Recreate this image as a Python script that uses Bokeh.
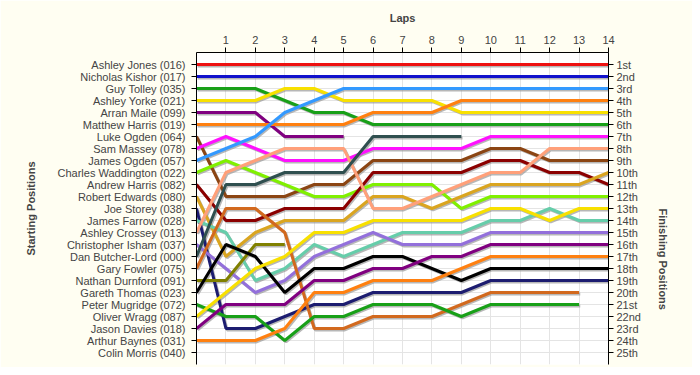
import math
from bokeh.plotting import figure
from bokeh.models import Range1d, LinearAxis, FixedTicker, ColumnDataSource
from bokeh.transform import dodge
from bokeh.embed import file_html
from bokeh.resources import INLINE

laps = list(range(0, 15))
lap_ticks = list(range(1, 15))

drivers = ["Ashley Jones (016)", "Nicholas Kishor (017)", "Guy Tolley (035)", "Ashley Yorke (021)",
           "Arran Maile (099)", "Matthew Harris (019)", "Luke Ogden (064)", "Sam Massey (078)",
           "James Ogden (057)", "Charles Waddington (022)", "Andrew Harris (082)", "Robert Edwards (080)",
           "Joe Storey (038)", "James Farrow (028)", "Ashley Crossey (013)", "Christopher Isham (037)",
           "Dan Butcher-Lord (000)", "Gary Fowler (075)", "Nathan Durnford (091)", "Gareth Thomas (023)",
           "Peter Mugridge (072)", "Oliver Wragg (087)", "Jason Davies (018)", "Arthur Baynes (031)",
           "Colin Morris (040)"]

finish_labels = ["1st", "2nd", "3rd", "4th", "5th", "6th", "7th", "8th", "9th", "10th", "11th", "12th",
                 "13th", "14th", "15th", "16th", "17th", "18th", "19th", "20th", "21st", "22nd", "23rd",
                 "24th", "25th"]

ashley_jones = [1, 1, 1, 1, 1, 1, 1, 1, 1, 1, 1, 1, 1, 1, 1]
nicholas_kishor = [2, 2, 2, 2, 2, 2, 2, 2, 2, 2, 2, 2, 2, 2, 2]
guy_tolley = [3, 3, 3, 4, 5, 5, 6, 6, 6, 6, 6, 6, 6, 6, 6]
ashley_yorke = [4, 4, 4, 3, 3, 4, 4, 4, 4, 5, 5, 5, 5, 5, 5]
arran_maile = [5, 5, 5, 7, 7, 7]
matthew_harris = [6, 6, 6, 6, 6, 6, 5, 5, 5, 4, 4, 4, 4, 4, 4]
luke_ogden = [7, 12, 12, 12, 11, 11, 9, 9, 9, 9, 8, 8, 9, 9, 9]
sam_massey = [8, 7, 8, 9, 9, 9, 8, 8, 8, 8, 7, 7, 7, 7, 7]
james_ogden = [9, 8, 7, 5, 4, 3, 3, 3, 3, 3, 3, 3, 3, 3, 3]
charles_waddington = [10, 9, 10, 11, 12, 12, 11, 11, 11, 13, 12, 12, 12, 12, 12]
andrew_harris = [11, 14, 14, 13, 13, 13, 10, 10, 10, 10, 9, 9, 10, 10, 11]
robert_edwards = [12, 17, 15, 14, 14, 14, 12, 12, 13, 12, 11, 11, 11, 11, 10]
joe_storey = [13, 23, 23, 22, 21, 21, 20, 20, 20, 20, 19, 19, 19, 19, 19]
james_farrow = [14, 15, 19, 18, 16, 17, 16, 15, 15, 15, 14, 14, 13, 14, 14]
ashley_crossey = [15, 10, 9, 8, 8, 8, 13, 13, 12, 11, 10, 10, 8, 8, 8]
christopher_isham = [16, 18, 20, 19, 17, 16, 15, 16, 16, 16, 15, 15, 15, 15, 15]
dan_butcher_lord = [17, 11, 11, 10, 10, 10, 7, 7, 7, 7]
gary_fowler = [18, 13, 13, 15, 23, 23, 22, 22, 22, 21, 20, 20, 20, 20]
nathan_durnford = [19, 19, 16, 16]
gareth_thomas = [20, 16, 17, 20, 18, 18, 17, 17, 18, 19, 18, 18, 18, 18, 18]
peter_mugridge = [21, 22, 22, 24, 22, 22, 21, 21, 21, 22, 21, 21, 21, 21]
oliver_wragg = [22, 20, 18, 17, 15, 15, 14, 14, 14, 14, 13, 13, 14, 13, 13]
jason_davies = [23, 21, 21, 21, 19, 19, 18, 18, 17, 17, 16, 16, 16, 16, 16]
arthur_baynes = [24, 24, 24, 23, 20, 20, 19, 19, 19, 18, 17, 17, 17, 17, 17]
colin_morris = []

series = [ashley_jones, nicholas_kishor, guy_tolley, ashley_yorke, arran_maile, matthew_harris,
          luke_ogden, sam_massey, james_ogden, charles_waddington, andrew_harris, robert_edwards,
          joe_storey, james_farrow, ashley_crossey, christopher_isham, dan_butcher_lord, gary_fowler,
          nathan_durnford, gareth_thomas, peter_mugridge, oliver_wragg, jason_davies, arthur_baynes,
          colin_morris]

colors = ["#EE1111", "#1111CC", "#18A018", "#F8E000", "#800080", "#FF8010", "#8B4513", "#FF10FF",
          "#3399FF", "#80F000", "#8B0000", "#DAA520", "#1C1C70", "#66CDAA", "#FFA07A", "#9370DB",
          "#2F4F4F", "#D2691E", "#808000", "#000000", "#18A018", "#F8E000", "#800080", "#FF8010",
          "#888888"]

FONT = "Liberation Sans"
BG = "#FFFEF2"

p = figure(width=692, height=367, x_range=Range1d(0, 14), y_range=Range1d(26, 0),
           output_backend="svg", toolbar_location=None, x_axis_location="above",
           min_border_left=196, min_border_right=84, min_border_top=52, min_border_bottom=3)
p.background_fill_color = "white"
p.border_fill_color = BG
p.outline_line_color = None

# top axis (laps)
xa = p.xaxis[0]
xa.ticker = FixedTicker(ticks=lap_ticks)
xa.axis_label = "Laps"
xa.axis_label_text_font = FONT
xa.axis_label_text_font_style = "bold"
xa.axis_label_text_font_size = "11px"
xa.axis_label_standoff = 9
xa.major_label_text_font = FONT
xa.major_label_text_font_size = "11px"
xa.major_label_standoff = 4
xa.major_tick_out = 5
xa.major_tick_in = 0
xa.minor_tick_out = 0
xa.minor_tick_in = 0
xa.axis_line_color = "black"

# left axis (starting positions)
ya = p.yaxis[0]
ya.ticker = FixedTicker(ticks=list(range(1, 26)))
ya.major_label_overrides = {i + 1: n for i, n in enumerate(drivers)}
ya.axis_label = "Starting Positions"
ya.axis_label_text_font = FONT
ya.axis_label_text_font_style = "bold"
ya.axis_label_text_font_size = "11px"
ya.axis_label_standoff = 18
ya.major_label_text_font = FONT
ya.major_label_text_font_size = "11px"
ya.major_label_standoff = 6
ya.major_tick_out = 5
ya.major_tick_in = 0
ya.minor_tick_out = 0
ya.minor_tick_in = 0

# right axis (finishing positions)
ra = LinearAxis(ticker=FixedTicker(ticks=list(range(1, 26))),
                major_label_overrides={i + 1: s for i, s in enumerate(finish_labels)},
                axis_label="Finishing Positions")
ra.axis_label_orientation = -math.pi / 2
ra.axis_label_text_font = FONT
ra.axis_label_text_font_style = "bold"
ra.axis_label_text_font_size = "11px"
ra.axis_label_standoff = 19
ra.major_label_text_font = FONT
ra.major_label_text_font_size = "11px"
ra.major_label_standoff = 3
ra.major_tick_out = 5
ra.major_tick_in = 0
ra.minor_tick_out = 0
ra.minor_tick_in = 0
p.add_layout(ra, "right")

p.xgrid.ticker = FixedTicker(ticks=lap_ticks)
p.ygrid.ticker = FixedTicker(ticks=list(range(1, 26)))
p.xgrid.grid_line_color = "#E4E4E4"
p.ygrid.grid_line_color = "#E4E4E4"
p.xgrid.grid_line_width = 1
p.ygrid.grid_line_width = 1

for pos, col in zip(series, colors):
    if not pos:
        continue
    src = ColumnDataSource(dict(x=laps[:len(pos)], y=pos))
    p.line(x=dodge("x", 0.04), y=dodge("y", 0.12), source=src, line_color="#999999",
           line_alpha=0.7, line_width=3)
for pos, col in zip(series, colors):
    if not pos:
        continue
    src = ColumnDataSource(dict(x=laps[:len(pos)], y=pos))
    p.line(x="x", y="y", source=src, line_color=col, line_width=3)

open("out.html", "w").write(file_html(p, INLINE))
